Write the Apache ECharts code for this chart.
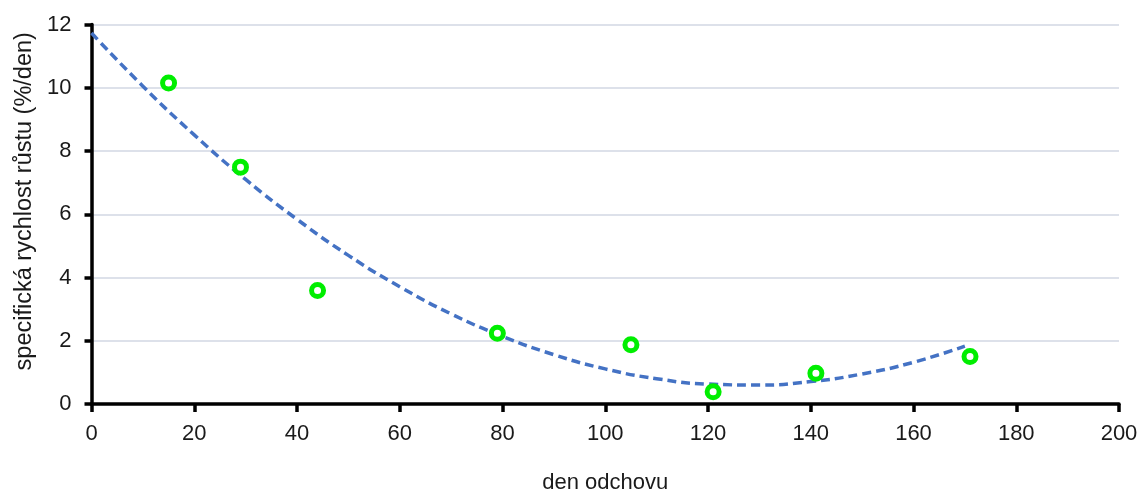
<!DOCTYPE html>
<html>
<head>
<meta charset="utf-8">
<script src="https://cdn.jsdelivr.net/npm/echarts@6/dist/echarts.min.js"></script>
<style>html,body{margin:0;padding:0;background:#fff}#c{width:1143px;height:490px}</style>
</head>
<body>
<div id="c"></div>
<script>
// measured points (day, specific growth rate %/day)
const days = [15, 29, 44, 79, 105, 121, 141, 171];
const rates = [10.15, 7.49, 3.59, 2.24, 1.87, 0.39, 0.97, 1.50];
// trend line
const trendX = [0, 10, 20, 30, 40, 50, 60, 70, 80, 90, 100, 110, 120, 130, 140, 150, 160, 170];
const trendY = [11.73, 10.05, 8.51, 7.10, 5.84, 4.70, 3.71, 2.85, 2.14, 1.56, 1.11, 0.80, 0.63, 0.60, 0.71, 0.95, 1.32, 1.83];
const xTicks = {min: 0, max: 200, interval: 20};
const yTicks = {min: 0, max: 12, interval: 2};

const chart = echarts.init(document.getElementById('c'), null, {renderer: 'canvas'});
const font = 'Liberation Sans, Arial, sans-serif';
chart.setOption({
  animation: false,
  grid: {left: 91.5, right: 24, top: 24.5, bottom: 86, containLabel: false, outerBoundsMode: 'none'},
  xAxis: {
    type: 'value', min: xTicks.min, max: xTicks.max, interval: xTicks.interval,
    name: 'den odchovu', nameLocation: 'middle', nameGap: 68,
    nameTextStyle: {fontFamily: font, fontSize: 22, color: '#1a1a1a'},
    axisLine: {show: true, onZero: false, lineStyle: {color: '#000', width: 3.5}},
    axisTick: {show: true, length: 8, lineStyle: {color: '#000', width: 3.5}},
    axisLabel: {fontFamily: font, fontSize: 22, color: '#1a1a1a', margin: 19},
    splitLine: {show: false}
  },
  yAxis: {
    type: 'value', min: yTicks.min, max: yTicks.max, interval: yTicks.interval,
    name: 'specifická rychlost růstu (%/den)', nameLocation: 'middle', nameGap: 54, nameRotate: 90,
    nameTextStyle: {fontFamily: font, fontSize: 23.5, color: '#1a1a1a', padding: [0, 0, 0, 26]},
    axisLine: {show: true, lineStyle: {color: '#000', width: 3.5}},
    axisTick: {show: true, length: 7, lineStyle: {color: '#000', width: 3.5}},
    axisLabel: {fontFamily: font, fontSize: 22, color: '#1a1a1a', margin: 20},
    splitLine: {show: true, lineStyle: {color: '#dde1ea', width: 2}}
  },
  series: [
    {
      type: 'line', smooth: true, symbol: 'none', z: 2,
      data: trendX.map((x, i) => [x, trendY[i]]),
      lineStyle: {color: '#4472c4', width: 3.5, type: [9, 5]}
    },
    {
      type: 'scatter', z: 3, symbol: 'circle', symbolSize: 12,
      data: days.map((d, i) => [d, rates[i]]),
      itemStyle: {color: '#ffffff', borderColor: '#00ee00', borderWidth: 5, opacity: 1}
    }
  ]
});
</script>
</body>
</html>
